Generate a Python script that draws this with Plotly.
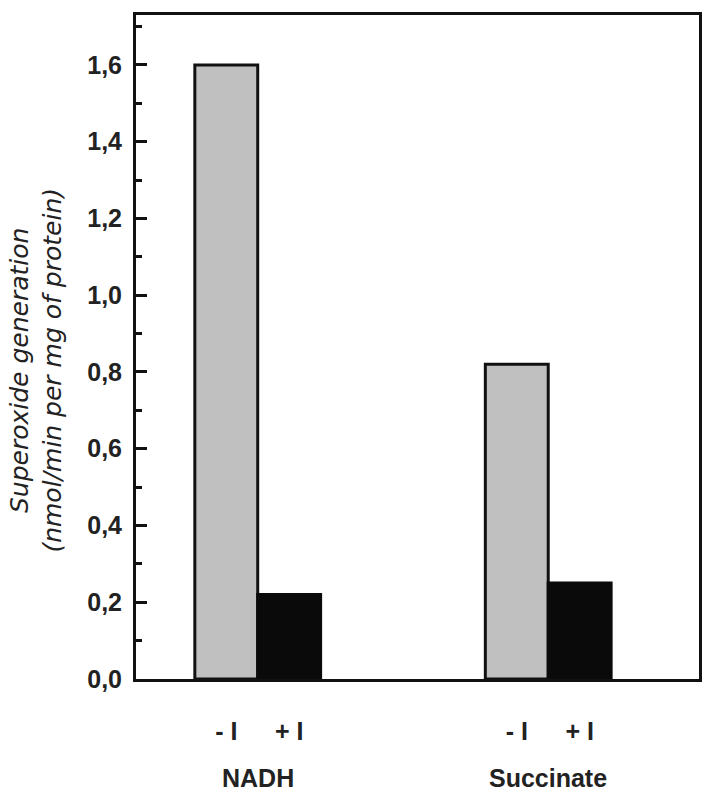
import plotly.graph_objects as go

# Data
substrates = ['NADH', 'Succinate']
group_pos = [0, 1]
minus_i = [1.60, 0.82]   # without inhibitor
plus_i = [0.22, 0.25]    # with inhibitor
cond_labels = ['- I', '+ I']

bar_w = 0.2165

fig = go.Figure()

fig.add_trace(go.Bar(
    x=group_pos, y=minus_i, name=cond_labels[0],
    marker=dict(color='#c0c0c0', line=dict(color='#111111', width=3)),
))
fig.add_trace(go.Bar(
    x=group_pos, y=plus_i, name=cond_labels[1],
    marker=dict(color='#0a0a0a', line=dict(color='#0a0a0a', width=3)),
))

# tick positions under each bar
tick_x, tick_t = [], []
for g in group_pos:
    tick_x += [g - bar_w / 2, g + bar_w / 2]
    tick_t += cond_labels

fig.update_layout(
    width=714, height=798,
    margin=dict(l=136, r=14, t=13, b=119),
    barmode='group',
    bargap=1 - 2 * bar_w,
    bargroupgap=0,
    showlegend=False,
    plot_bgcolor='white',
    paper_bgcolor='white',
    separators=',.',
    font=dict(family='Liberation Sans, Arial', color='#222222'),
)

fig.update_xaxes(
    range=[-0.419, 1.519],
    tickvals=tick_x, ticktext=tick_t,
    ticks='', showgrid=False, zeroline=False,
    showline=True, linecolor='#111111', linewidth=3, mirror=True,
    tickfont=dict(size=25, family='Liberation Sans, Arial', weight='bold'),
    ticklabelstandoff=28,
)
fig.update_yaxes(
    range=[0, 1.73],
    dtick=0.2, tick0=0, tickformat='.1f',
    ticks='inside', ticklen=11, tickwidth=3, tickcolor='#111111',
    minor=dict(dtick=0.1, ticks='inside', ticklen=6, tickwidth=3, tickcolor='#111111'),
    showgrid=False, zeroline=False,
    showline=True, linecolor='#111111', linewidth=3, mirror=True,
    tickfont=dict(size=25, family='Liberation Sans, Arial', weight='bold'),
    ticklabelstandoff=6,
)

# group names below the condition labels
for g, name in zip(group_pos, substrates):
    fig.add_annotation(
        x=g, y=-0.149, xref='x', yref='paper',
        text=name, showarrow=False,
        font=dict(size=25, family='Liberation Sans, Arial', weight='bold', color='#222222'),
        xanchor='center', yanchor='middle',
    )

# y-axis title
fig.add_annotation(
    x=-0.177, y=0.465, xref='paper', yref='paper',
    text='Superoxide generation<br>(nmol/min per mg of protein)',
    textangle=-90, showarrow=False,
    font=dict(size=25, family='DejaVu Sans', style='italic', color='#222222'),
    xanchor='center', yanchor='middle',
)

# drop the default page margin so the figure sits at the window's corner
fig.write_html('out.html', config={'displayModeBar': False},
               post_script="document.body.style.margin='0';")
